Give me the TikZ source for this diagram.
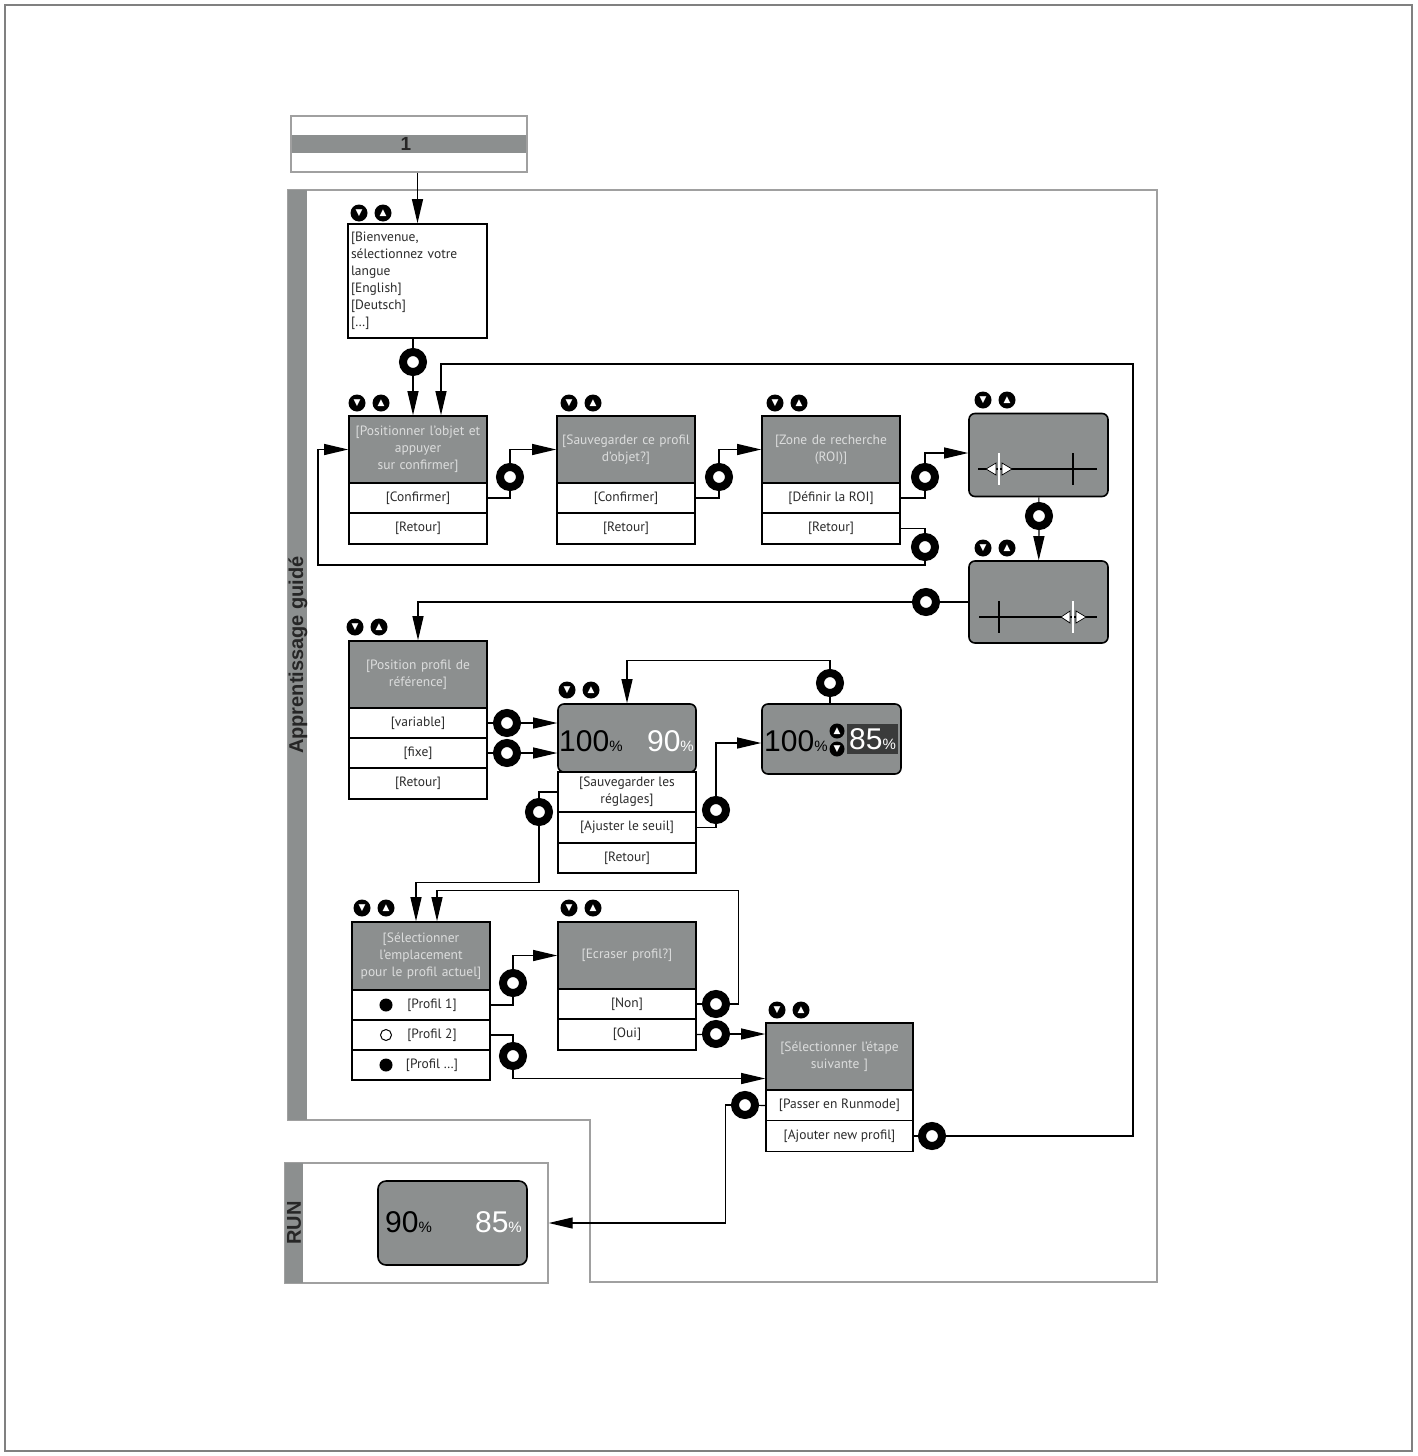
\documentclass[tikz,border=0pt]{standalone}
\usepackage{fontspec}
\setmainfont{PT Sans}
\newfontfamily\arialf{Liberation Sans}
\newfontfamily\symf{DejaVu Sans}
\usetikzlibrary{arrows.meta}
\definecolor{scrgrey}{HTML}{8C8F8F}
\definecolor{framegrey}{HTML}{A0A0A0}
\definecolor{hdrtext}{HTML}{DCDDDD}
\definecolor{rowtext}{HTML}{2B2B2B}
\definecolor{darkbox}{HTML}{3A3B3B}
\newcommand\bignum[1]{{\arialf\fontsize{30}{30}\selectfont #1}}
\newcommand\pctsign{{\arialf\fontsize{15}{15}\selectfont\%}}

\begin{document}
\begin{tikzpicture}[x=1pt, y=-1pt,
  hdr/.style={rectangle, draw=black, line width=1.6pt, fill=scrgrey, minimum width=138pt, minimum height=67pt, text width=136pt, align=center, inner sep=0pt, text=hdrtext, font=\fontsize{13.5}{17}\selectfont},
  row/.style={rectangle, draw=black, line width=1.6pt, fill=white, minimum width=138pt, minimum height=30pt, align=center, inner sep=0pt, text=rowtext, font=\fontsize{13.5}{17}\selectfont},
  scr/.style={rectangle, rounded corners=6pt, draw=black, line width=1.6pt, fill=scrgrey, inner sep=0pt},
  ring/.style={circle, draw=black, line width=8pt, fill=white, minimum size=20pt, inner sep=0pt},
  key/.style={circle, fill=black, minimum size=17pt, inner sep=0pt, text=white, font=\symf\fontsize{9}{9}\selectfont},
  dot/.style={circle, draw=black, line width=1pt, fill=black, minimum size=12pt, inner sep=0pt},
  frame/.style={draw=framegrey, line width=1.4pt},
  band/.style={fill=scrgrey},
  title/.style={font=\arialf\bfseries\fontsize{20}{20}\selectfont, text=black!85},
  wire/.style={line width=1.2pt},
  arr/.style={-{Triangle[length=24pt,width=11pt]}, line width=1.2pt}
]
  \useasboundingbox (0,0) rectangle (1417,1456);
  \draw[draw=gray, line width=1.5pt] (5,5) rectangle (1412,1451);

  % frames
  \draw[frame] (288,190) -- (1157,190) -- (1157,1282) -- (590,1282) -- (590,1120) -- (288,1120) -- cycle;
  \fill[band] (288,190) rectangle (307,1120);
  \node[rotate=90, title] (guide) at (298,655) {Apprentissage guidé};
  \node[frame, rectangle, minimum width=263pt, minimum height=120pt] (runbox) at (416.5,1223) {};
  \fill[band] (285,1163) rectangle (303,1283);
  \node[rotate=90, title] (run) at (294,1223) {RUN};
  \node[frame, rectangle, minimum width=236pt, minimum height=56pt] (start) at (409,144) {};
  \fill[band] (292,135) rectangle (526,153);
  \node[title, font=\arialf\bfseries\fontsize{19}{19}\selectfont] (one) at (406,144) {1};

  % buttons
  \foreach \x/\y/\n in {359/213/a, 357/403/b, 569/403/c, 775/403/d, 983/400/s1, 983/548/s2,
                        355/627/e, 567/690/f, 362/908/h, 569/908/i, 777/1010/j} {
    \node[key] (dn-\n) at (\x,\y) {▼};
    \node[key] (up-\n) at (\x+24,\y) {▲};
  }

  % language
  \node[row, minimum width=139pt, minimum height=114pt, text width=133pt, align=left, inner sep=3pt] (bienv) at (417.5,281)
    {[Bienvenue,\\sélectionnez votre\\langue\\{}[English]\\{}[Deutsch]\\{}[…]};

  % teach steps
  \node[hdr] (posobj) at (418,449.5) {[Positionner l'objet et\\appuyer\\sur confirmer]};
  \node[row] (pConf) at (418,498) {[Confirmer]};
  \node[row, minimum height=31pt] (pRet) at (418,528.5) {[Retour]};

  \node[hdr] (sav) at (626,449.5) {[Sauvegarder ce profil\\d'objet?]};
  \node[row] (sConf) at (626,498) {[Confirmer]};
  \node[row, minimum height=31pt] (sRet) at (626,528.5) {[Retour]};

  \node[hdr] (roi) at (831,449.5) {[Zone de recherche\\(ROI)]};
  \node[row] (rDef) at (831,498) {[Définir la ROI]};
  \node[row, minimum height=31pt] (rRet) at (831,528.5) {[Retour]};

  \node[scr, minimum width=139pt, minimum height=83pt] (scr1) at (1038.5,455) {};
  \draw[line width=1.2pt] (978,469) -- (1097,469) (1073,453) -- (1073,485);
  \draw[white, line width=1.5pt] (999,453) -- (999,485);
  \filldraw[fill=white, draw=black, line width=0.7pt] (986,469) -- (996,463) -- (996,475) -- cycle
    (1012,469) -- (1002,463) -- (1002,475) -- cycle;

  \node[scr, minimum width=139pt, minimum height=82pt] (scr2) at (1038.5,602) {};
  \draw[line width=1.2pt] (979,617) -- (1097,617) (999,601) -- (999,633);
  \draw[white, line width=1.5pt] (1073,601) -- (1073,633);
  \filldraw[fill=white, draw=black, line width=0.7pt] (1061,617) -- (1070,611) -- (1070,623) -- cycle
    (1086,617) -- (1076,611) -- (1076,623) -- cycle;

  \node[hdr] (posref) at (418,674.5) {[Position profil de\\référence]};
  \node[row] (eVar) at (418,723) {[variable]};
  \node[row] (eFix) at (418,753) {[fixe]};
  \node[row, minimum height=31pt] (eRet) at (418,783.5) {[Retour]};

  % threshold
  \node[scr, minimum width=138pt, minimum height=68pt] (scrF) at (627,738) {};
  \node[anchor=base west, inner sep=0pt] (f100) at (559,751) {\bignum{100}\pctsign};
  \node[anchor=base east, inner sep=0pt, text=white] (f90) at (694,751) {\bignum{90}\pctsign};
  \node[row, minimum height=40pt] (fSave) at (627,792) {[Sauvegarder les\\réglages]};
  \node[row, minimum height=31pt] (fAdj) at (627,827.5) {[Ajuster le seuil]};
  \node[row] (fRet) at (627,858) {[Retour]};

  \node[scr, minimum width=139pt, minimum height=70pt] (scrG) at (831.5,739) {};
  \node[anchor=base west, inner sep=0pt] (g100) at (764,751) {\bignum{100}\pctsign};
  \node[key, minimum size=15pt] (gup) at (837,731) {▲};
  \node[key, minimum size=15pt] (gdn) at (837,749) {▼};
  \node[fill=darkbox, text=white, minimum width=51pt, minimum height=30pt, inner sep=0pt] (g85) at (872.5,739) {\bignum{85}\pctsign};

  % profile slot
  \node[hdr, minimum height=68pt] (emp) at (421,956) {[Sélectionner\\l’emplacement\\pour le profil actuel]};
  \node[row] (p1) at (421,1005) {\hspace*{22pt}[Profil 1]};
  \node[row] (p2) at (421,1035) {\hspace*{22pt}[Profil 2]};
  \node[row] (p3) at (421,1065) {\hspace*{22pt}[Profil …]};
  \node[dot] (d1) at (386,1005) {};
  \node[dot, fill=white, minimum size=11pt] (d2) at (386,1035) {};
  \node[dot] (d3) at (386,1065) {};

  \node[hdr] (ecr) at (627,955.5) {[Ecraser profil?]};
  \node[row] (non) at (627,1004) {[Non]};
  \node[row, minimum height=31pt] (oui) at (627,1034.5) {[Oui]};

  \node[hdr, minimum width=147pt, text width=143pt] (etape) at (839.5,1056.5) {[Sélectionner l'étape\\suivante ]};
  \node[row, minimum width=147pt] (runm) at (839.5,1105.5) {[Passer en Runmode]};
  \node[row, minimum width=147pt, minimum height=31pt] (ajout) at (839.5,1136) {[Ajouter new profil]};

  % run display
  \node[scr, rounded corners=8pt, minimum width=149pt, minimum height=84pt] (runscr) at (452.5,1223) {};
  \node[anchor=base west, inner sep=0pt] (r90) at (385,1232) {\bignum{90}\pctsign};
  \node[anchor=base east, inner sep=0pt, text=white] (r85) at (522,1232) {\bignum{85}\pctsign};

  % rings
  \node[ring] (b1) at (413,362) {};
  \node[ring] (bB) at (510,477) {};
  \node[ring] (bC) at (719,477) {};
  \node[ring] (bD) at (925,477) {};
  \node[ring] (bRet) at (925,547) {};
  \node[ring] (bS) at (1039,516) {};
  \node[ring] (bP) at (926,602) {};
  \node[ring] (bV) at (507,723) {};
  \node[ring] (bFx) at (507,753) {};
  \node[ring] (bFs) at (539,812) {};
  \node[ring] (bFa) at (716,810) {};
  \node[ring] (bG) at (830,683) {};
  \node[ring] (bH1) at (513,983) {};
  \node[ring] (bH2) at (513,1056) {};
  \node[ring] (bN) at (716,1004) {};
  \node[ring] (bO) at (716,1034) {};
  \node[ring] (bR) at (745,1105) {};
  \node[ring] (bA) at (932,1136) {};

  % connectors
  \draw[arr] (start.south -| bienv.north) -- (bienv.north);
  \draw[wire] (bienv.south -| b1) -- (b1);
  \draw[arr] (b1) -- (b1 |- posobj.north);
  \draw[wire] (ajout.east) -- (bA);
  \draw[arr] (bA) -| (1133,364) -| ([xshift=23pt]posobj.north);
  \draw[wire] (pConf.east) -| (bB);
  \draw[arr] (bB) |- (sav.west);
  \draw[wire] (sConf.east) -| (bC);
  \draw[arr] (bC) |- (roi.west);
  \draw[wire] (rDef.east) -| (bD);
  \draw[arr] (bD) |- ([yshift=2pt]scr1.west);
  \draw[wire] (rRet.east) -| (bRet);
  \draw[arr] (bRet) |- (318,565) |- (posobj.west);
  \draw[wire] (scr1) -- (bS);
  \draw[arr] (bS) -- (scr2);
  \draw[wire] (scr2.west) -- (bP);
  \draw[arr] (bP) -| (posref.north);
  \draw[wire] (eVar.east) -- (bV);
  \draw[arr] (bV) -- (bV -| scrF.west);
  \draw[wire] (eFix.east) -- (bFx);
  \draw[arr] (bFx) -- (bFx -| scrF.west);
  \draw[wire] (fSave.west) -| (bFs);
  \draw[arr] (bFs) |- ([xshift=-5pt, yshift=39pt]emp.north) -- ([xshift=-5pt]emp.north);
  \draw[wire] (fAdj.east) -| (bFa);
  \draw[arr] (bFa) |- ([yshift=-4pt]scrG.west);
  \draw[wire] (scrG.north -| bG) -- (bG);
  \draw[arr] (bG) |- ([yshift=43pt]scrF.north) -- (scrF.north);
  \draw[wire] (p1.east) -| (bH1);
  \draw[arr] (bH1) |- (ecr.west);
  \draw[wire] (p2.east) -| (bH2);
  \draw[arr] (bH2) |- ([yshift=-22pt]etape.west);
  \draw[wire] (non.east) -- (bN);
  \draw[arr] (bN) -| ([xshift=42pt, yshift=31pt]ecr.north east) -| ([xshift=16pt]emp.north);
  \draw[wire] (oui.east) -- (bO);
  \draw[arr] (bO) -- (bO -| etape.west);
  \draw[wire] (runm.west) -- (bR);
  \draw[arr] (bR) -| ([xshift=177pt]runbox.east) -- (runbox.east);
\end{tikzpicture}
\end{document}
